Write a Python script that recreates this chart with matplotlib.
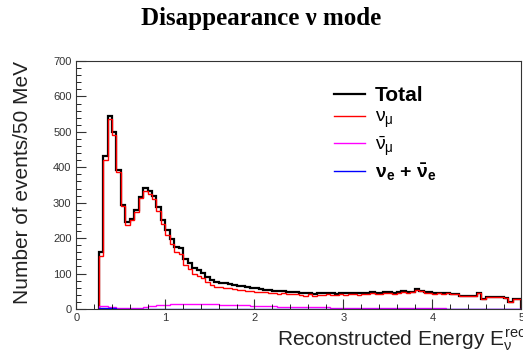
import numpy as np
import matplotlib
matplotlib.use("Agg")
import matplotlib.pyplot as plt
from matplotlib.lines import Line2D
from matplotlib.ticker import MultipleLocator

plt.rcParams['font.family'] = ['Liberation Sans', 'DejaVu Sans']
plt.rcParams['mathtext.fontset'] = 'custom'
plt.rcParams['mathtext.rm'] = 'Liberation Sans'
plt.rcParams['mathtext.it'] = 'Liberation Sans'
plt.rcParams['mathtext.bf'] = 'Liberation Sans:bold'

# 50 MeV bins starting at 0.25 GeV
bin_edges = np.round(np.arange(0.25, 5.0001, 0.05), 2)

total = [162, 432, 546, 500, 392, 294, 245, 254, 279, 317,
         341, 334, 320, 288, 251, 223, 198, 175, 172, 141,
         130, 116, 110, 103, 91, 82, 77, 74, 73, 71,
         68, 66, 64, 62, 60,
         58, 56, 55, 53, 52, 50, 51, 48, 47, 49,
         45, 44, 46, 43, 45, 44, 46, 44, 43, 45,
         44, 46, 45, 44, 46, 45, 47, 45, 44, 48,
         47, 46, 47, 50, 48, 49, 57, 52, 48, 47,
         45, 46, 44, 45, 43, 42, 37, 38, 37, 36,
         44, 28, 34, 35, 33, 34, 31, 20, 28, 28]

numu = [151, 420, 536, 492, 387, 290, 238, 251, 275, 312,
        334, 325, 310, 277, 239, 210, 184, 160, 156, 125,
        114, 100, 94, 88, 76, 68, 63, 61, 60, 59,
        56, 55, 53, 51, 50,
        49, 47, 47, 45, 44, 43, 44, 41, 41, 43,
        39, 38, 41, 38, 40, 39, 41, 40, 39, 41,
        40, 42, 41, 40, 43, 42, 44, 42, 41, 45,
        44, 43, 44, 48, 46, 47, 55, 50, 46, 45,
        43, 44, 42, 45, 43, 42, 37, 38, 37, 36,
        44, 28, 34, 35, 33, 34, 31, 20, 28, 28]

numubar = [8, 8, 7, 6, 4, 3, 2, 2, 3, 4,
           6, 8, 9, 10, 11, 12, 13, 14, 15, 15,
           15, 15, 15, 14, 14, 13, 13, 12, 12, 11,
           11, 10, 10, 10, 9,
           9, 9, 8, 8, 8, 7, 7, 7, 6, 6,
           6, 6, 5, 5, 5, 5, 5, 4, 4, 4,
           4, 4, 4, 4, 3, 3, 3, 3, 3, 3,
           3, 3, 3, 2, 2, 2, 2, 2, 2, 2,
           2, 2, 2, 0, 0, 0, 0, 0, 0, 0,
           0, 0, 0, 0, 0, 0, 0, 0, 0, 0]

nue = [3, 4, 3, 2, 1] + [1] * 30 + [0] * 60

fig = plt.figure(figsize=(5.23, 3.57), dpi=100)
ax = fig.add_axes([0.146, 0.1345, 0.851, 0.6945])

ax.stairs(total, bin_edges, color='black', lw=1.6, baseline=0)
ax.stairs(numu, bin_edges, color='#ff0000', lw=1.0, baseline=0)
ax.stairs(numubar, bin_edges, color='#ff00ff', lw=1.0, baseline=0)
ax.stairs(nue, bin_edges, color='#0000ff', lw=1.0, baseline=0)

ax.set_xlim(0, 5)
ax.set_ylim(0, 700)
ax.xaxis.set_major_locator(MultipleLocator(1))
ax.xaxis.set_minor_locator(MultipleLocator(0.2))
ax.yaxis.set_major_locator(MultipleLocator(100))
ax.yaxis.set_minor_locator(MultipleLocator(20))
ax.tick_params(which='major', direction='in', length=7, width=0.8,
               labelsize=8, colors='#333333', top=False, right=False)
ax.tick_params(which='minor', direction='in', length=3.5, width=0.6,
               top=False, right=False)
ax.tick_params(axis='x', pad=3)
for sp in ax.spines.values():
    sp.set_linewidth(0.8)
    sp.set_color('#333333')

ax.set_ylabel('Number of events/50 MeV', fontsize=15, color='#222222',
              loc='top', labelpad=15)
fig.text(277 / 523, 1 - 340 / 357, r'Reconstructed Energy $E_{\nu}^{rec}$',
         fontsize=15, color='#222222', ha='left', va='center')

fig.text(0.5, 1 - 19 / 357, 'Disappearance \u03bd mode', fontsize=18,
         fontweight='bold', family='Liberation Serif', ha='center', va='center')

handles = [Line2D([], [], color='black', lw=1.6),
           Line2D([], [], color='#ff0000', lw=1.0),
           Line2D([], [], color='#ff00ff', lw=1.0),
           Line2D([], [], color='#0000ff', lw=1.0)]
labels = ['Total', r'$\nu_{\mu}$', r'$\bar{\nu}_{\mu}$',
          r'$\mathbf{\nu_{e}}$ + $\mathbf{\bar{\nu}_{e}}$']
leg = ax.legend(handles, labels, frameon=False, loc='upper left',
                bbox_to_anchor=(0.54, 0.97), handlelength=1.6,
                handletextpad=0.5, labelspacing=0.2, fontsize=14)
leg.get_texts()[0].set_fontweight('bold')
leg.get_texts()[0].set_fontsize(15)
leg.get_texts()[3].set_fontweight('bold')

fig.savefig('out.png', dpi=100)
